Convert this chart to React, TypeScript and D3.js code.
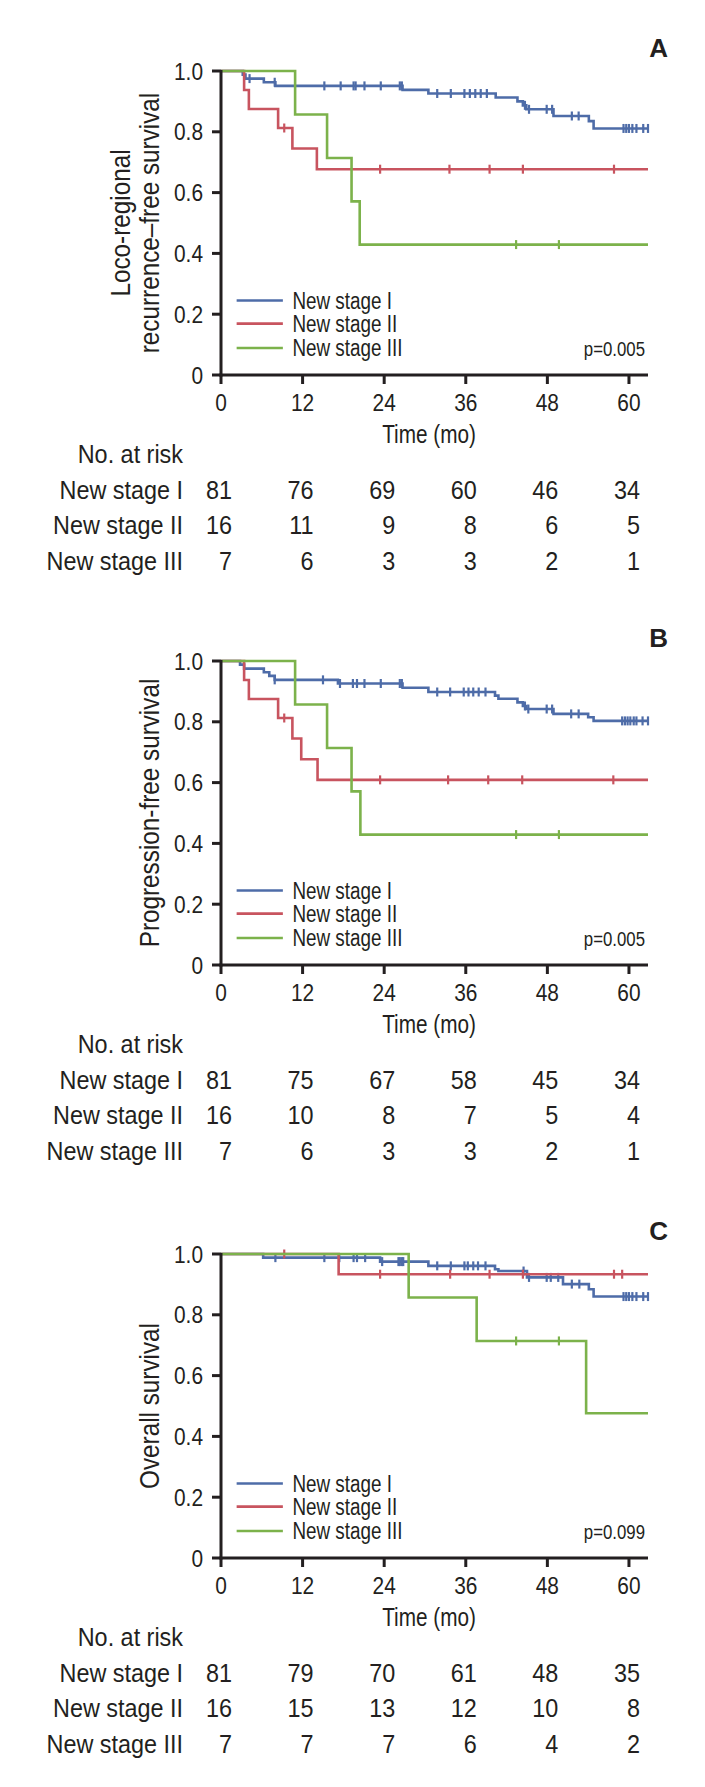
import React from 'react';
import * as d3 from 'd3';

type Step = [number, number];

const stageNames = ['New stage I', 'New stage II', 'New stage III'];
const stageColors = ['#4e6ca8', '#c8545f', '#7cb24b'];
const timeTicks = [0, 12, 24, 36, 48, 60];
const survivalTicks = [0, 0.2, 0.4, 0.6, 0.8, 1.0];
const followUpEnd = 62.8;

// A: loco-regional recurrence-free survival, [month, survival after drop]
const lrfsStage1: Step[] = [[3.2, 0.988], [3.6, 0.975], [6.3, 0.963], [8.0, 0.951], [26.7, 0.938], [30.5, 0.926], [40.4, 0.913], [43.6, 0.9], [44.4, 0.887], [44.9, 0.874], [48.9, 0.852], [54.1, 0.835], [54.8, 0.811]];
const lrfsStage1Censor = [4.2, 7.9, 15.2, 17.6, 19.5, 19.8, 21.1, 23.5, 26.3, 26.6, 31.8, 33.8, 35.8, 36.6, 37.4, 38.2, 39.1, 44.7, 45.3, 47.9, 48.7, 51.6, 52.6, 59.2, 59.6, 60.0, 60.5, 61.1, 62.1, 62.8];
const lrfsStage2: Step[] = [[3.4, 0.9375], [4.1, 0.875], [8.4, 0.8125], [10.5, 0.745], [14.1, 0.677]];
const lrfsStage2Censor = [9.3, 23.4, 33.6, 39.5, 44.4, 57.8];
const lrfsStage3: Step[] = [[10.9, 0.857], [15.6, 0.714], [19.2, 0.571], [20.4, 0.429]];
const lrfsStage3Censor = [43.4, 49.7];
const lrfsRisk = [[81, 76, 69, 60, 46, 34], [16, 11, 9, 8, 6, 5], [7, 6, 3, 3, 2, 1]];

// B: progression-free survival
const pfsStage1: Step[] = [[2.8, 0.988], [3.4, 0.975], [6.3, 0.963], [7.1, 0.951], [7.9, 0.938], [17.2, 0.926], [26.7, 0.912], [30.5, 0.898], [40.3, 0.886], [40.8, 0.876], [43.6, 0.864], [44.4, 0.852], [44.9, 0.842], [48.9, 0.826], [54.0, 0.815], [54.8, 0.803]];
const pfsStage1Censor = [7.9, 15.0, 17.5, 19.4, 20.0, 21.1, 23.5, 26.3, 26.6, 31.8, 33.7, 35.7, 36.4, 37.1, 37.9, 38.9, 44.7, 45.2, 47.9, 48.7, 51.5, 52.6, 59.0, 59.4, 59.8, 60.2, 60.7, 61.1, 62.0, 62.8];
const pfsStage2: Step[] = [[3.4, 0.9375], [4.1, 0.875], [8.4, 0.8125], [10.5, 0.745], [11.8, 0.677], [14.2, 0.609]];
const pfsStage2Censor = [9.3, 23.4, 33.4, 39.3, 44.3, 57.7];
const pfsStage3: Step[] = [[10.9, 0.857], [15.6, 0.714], [19.2, 0.571], [20.5, 0.429]];
const pfsStage3Censor = [43.4, 49.7];
const pfsRisk = [[81, 75, 67, 58, 45, 34], [16, 10, 8, 7, 5, 4], [7, 6, 3, 3, 2, 1]];

// C: overall survival
const osStage1: Step[] = [[6.2, 0.988], [23.4, 0.975], [30.5, 0.961], [40.3, 0.95], [40.8, 0.944], [45.0, 0.923], [50.3, 0.901], [54.1, 0.884], [54.8, 0.86]];
const osStage1Censor = [8.0, 15.2, 17.4, 19.5, 20.0, 21.2, 23.7, 26.1, 26.3, 26.6, 26.8, 31.8, 33.8, 35.8, 36.3, 37.1, 37.8, 38.9, 44.5, 45.3, 47.9, 48.5, 49.6, 51.6, 52.7, 59.2, 59.6, 60.0, 60.5, 61.1, 62.1, 62.8];
const osStage2: Step[] = [[17.3, 0.9335]];
const osStage2Censor = [9.3, 23.4, 33.7, 39.5, 44.4, 57.8, 59.0];
const osStage3: Step[] = [[27.6, 0.857], [37.6, 0.714], [53.7, 0.476]];
const osStage3Censor = [43.4, 49.7];
const osRisk = [[81, 79, 70, 61, 48, 35], [16, 15, 13, 12, 10, 8], [7, 7, 7, 6, 4, 2]];

const FONT = "'Liberation Sans', Arial, sans-serif";

const x = d3.scaleLinear().domain([0, followUpEnd]).range([221, 648]);
const PLOT_H = 304;

type Curve = { steps: Step[]; censor: number[] };

const survivalAt = (steps: Step[], t: number) => {
  let s = 1;
  steps.forEach(([st, sv]) => { if (st <= t) s = sv; });
  return s;
};

// condensed text: squeeze glyphs horizontally, the original uses a condensed face
const NText = ({ x: tx, y: ty, sx, rot, children, ...rest }: any) => (
  <text transform={`translate(${tx},${ty})${rot ? ` rotate(${rot})` : ''} scale(${sx},1)`} {...rest}>{children}</text>
);

const Panel = ({ top, letter, yLabel, curves, risk, pValue }: {
  top: number; letter: string; yLabel: string[]; curves: Curve[]; risk: number[][]; pValue: string;
}) => {
  const y = d3.scaleLinear().domain([0, 1]).range([top + PLOT_H, top]);
  const line = d3.line<Step>().x(d => x(d[0])).y(d => y(d[1])).curve(d3.curveStepAfter);
  const mid = top + PLOT_H / 2;
  const legendRows = [0.245, 0.169, 0.089];
  const rowY = (i: number) => top + 427.5 + i * 35.5;

  return (
    <g fontFamily={FONT} fill="#231f20">
      <text x={668} y={top - 14} textAnchor="end" fontSize={26} fontWeight="bold">{letter}</text>

      {yLabel.map((l, i) => (
        <NText key={l} x={yLabel.length === 2 ? 130 + i * 29 : 159} y={mid} rot={-90} sx={0.9} textAnchor="middle" fontSize={27}>{l}</NText>
      ))}

      {curves.map((c, i) => {
        const pts: Step[] = [[0, 1], ...c.steps, [followUpEnd, c.steps[c.steps.length - 1][1]]];
        return (
          <g key={i} stroke={stageColors[i]} strokeWidth={2.6} fill="none">
            <path d={line(pts) || ''} />
            {c.censor.map((t, j) => {
              const cy = y(survivalAt(c.steps, t));
              return <line key={j} x1={x(t)} x2={x(t)} y1={cy - 4.5} y2={cy + 4.5} strokeWidth={2.2} />;
            })}
          </g>
        );
      })}

      {/* axes */}
      <g stroke="#231f20" strokeWidth={3}>
        <line x1={x(0)} x2={x(0)} y1={y(1) - 1} y2={y(0) + 1.5} />
        <line x1={x(0) - 1.5} x2={x(followUpEnd)} y1={y(0)} y2={y(0)} />
        {survivalTicks.map(v => <line key={v} x1={x(0) - 9} x2={x(0)} y1={y(v)} y2={y(v)} />)}
        {timeTicks.map(t => <line key={t} x1={x(t)} x2={x(t)} y1={y(0)} y2={y(0) + 9} />)}
      </g>
      {survivalTicks.map(v => (
        <NText key={v} x={203} y={y(v)} sx={0.87} dy="0.36em" textAnchor="end" fontSize={24}>{v === 0 ? '0' : v.toFixed(1)}</NText>
      ))}
      {timeTicks.map(t => (
        <NText key={t} x={x(t)} y={y(0) + 36} sx={0.87} textAnchor="middle" fontSize={24}>{t}</NText>
      ))}
      <NText x={429} y={top + 372} sx={0.83} textAnchor="middle" fontSize={25}>Time (mo)</NText>

      {/* legend */}
      {stageNames.map((n, i) => (
        <g key={n}>
          <line x1={x(2.3)} x2={x(9.1)} y1={y(legendRows[i])} y2={y(legendRows[i])} stroke={stageColors[i]} strokeWidth={2.6} />
          <NText x={x(10.5)} y={y(legendRows[i])} sx={0.82} dy="0.36em" fontSize={23}>{n}</NText>
        </g>
      ))}
      <NText x={645} y={y(legendRows[2])} sx={0.8} dy="0.36em" textAnchor="end" fontSize={21}>{pValue}</NText>

      {/* number at risk */}
      <NText x={183} y={top + 392} sx={0.9} textAnchor="end" fontSize={26}>No. at risk</NText>
      {stageNames.map((n, i) => (
        <g key={n}>
          <NText x={183} y={rowY(i)} sx={0.9} textAnchor="end" fontSize={26}>{n}</NText>
          {risk[i].map((v, j) => (
            <NText key={j} x={x(timeTicks[j]) + 11} y={rowY(i)} sx={0.9} textAnchor="end" fontSize={26}>{v}</NText>
          ))}
        </g>
      ))}
    </g>
  );
};

export default function App() {
  return (
    <svg width={705} height={1787} style={{ display: 'block', position: 'absolute', left: 0, top: 0 }}>
      <rect width={705} height={1787} fill="#fff" />
      <Panel top={71} letter="A" yLabel={['Loco-regional', 'recurrence\u2013free survival']}
        curves={[{ steps: lrfsStage1, censor: lrfsStage1Censor }, { steps: lrfsStage2, censor: lrfsStage2Censor }, { steps: lrfsStage3, censor: lrfsStage3Censor }]}
        risk={lrfsRisk} pValue="p=0.005" />
      <Panel top={661} letter="B" yLabel={['Progression-free survival']}
        curves={[{ steps: pfsStage1, censor: pfsStage1Censor }, { steps: pfsStage2, censor: pfsStage2Censor }, { steps: pfsStage3, censor: pfsStage3Censor }]}
        risk={pfsRisk} pValue="p=0.005" />
      <Panel top={1254} letter="C" yLabel={['Overall survival']}
        curves={[{ steps: osStage1, censor: osStage1Censor }, { steps: osStage2, censor: osStage2Censor }, { steps: osStage3, censor: osStage3Censor }]}
        risk={osRisk} pValue="p=0.099" />
    </svg>
  );
}
